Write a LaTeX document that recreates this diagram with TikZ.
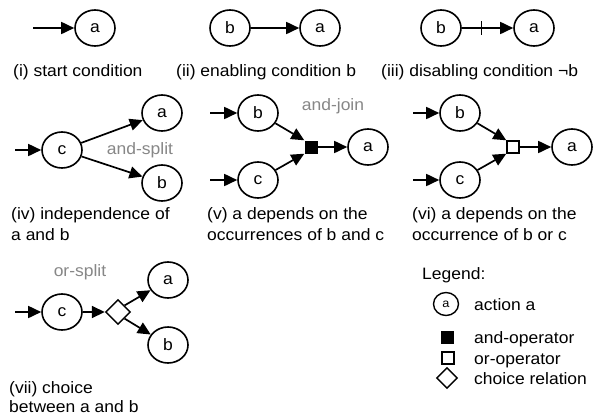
\documentclass[tikz,border=0pt]{standalone}
\usepackage{fontspec}
\setmainfont{Liberation Sans}[FakeStretch=1.06]
\usetikzlibrary{arrows.meta,shapes.geometric,calc}
\definecolor{lblgray}{RGB}{135,135,135}
\tikzset{
  act/.style={ellipse,draw,line width=1.6pt,minimum width=40pt,minimum height=36pt,inner sep=0pt},
  smallact/.style={ellipse,draw,line width=1.4pt,minimum width=25pt,minimum height=23pt,inner sep=0pt,font=\fontsize{12}{14}\selectfont},
  arr/.style={-{Triangle[length=13pt,width=12pt]},line width=1.7pt},
  captxt/.style={anchor=base west,inner sep=0pt},
  oplbl/.style={text=lblgray,inner sep=0pt},
  andop/.style={rectangle,fill=black,minimum size=13pt,inner sep=0pt},
  orop/.style={rectangle,draw,line width=1.4pt,fill=white,minimum size=12pt,inner sep=0pt},
  choiceop/.style={diamond,draw,line width=1.4pt,fill=white,minimum width=25pt,minimum height=25pt,inner sep=0pt},
}
\begin{document}
\begin{tikzpicture}[x=1pt,y=-1pt,font=\fontsize{16.5}{21}\selectfont]
\useasboundingbox[fill=white] (0,0) rectangle (597,416);
% (i)
\coordinate (s1) at (33,28);
\node[act] (a1) at (95,28) {a};
\draw[arr] (s1) -- (a1);
\node[captxt] (c1) at (13,76) {(i) start condition};
% (ii)
\node[act] (b2) at (230,28) {b};
\node[act] (a2) at (320,28) {a};
\draw[arr] (b2) -- (a2);
\node[captxt] (c2) at (176,76) {(ii) enabling condition b};
% (iii)
\node[act] (b3) at (441,28) {b};
\node[act] (a3) at (534,28) {a};
\draw[arr] (b3) -- (a3);
\coordinate (t3) at ($(b3.east)!0.38!(a3.west)$);
\draw[line width=1.5pt] (t3) ++(0,-7) -- ++(0,14);
\node[captxt] (c3) at (381,76) {(iii) disabling condition ¬b};
% (iv)
\coordinate (s4) at (15,150);
\node[act] (c4) at (62,150) {c};
\node[act] (a4) at (162,113) {a};
\node[act] (b4) at (162,183) {b};
\draw[arr] (s4) -- (c4);
\draw[arr] (c4) -- (a4);
\draw[arr] (c4) -- (b4);
\node[oplbl] (l4) at (140,150) {and-split};
\node[captxt] (c4a) at (11,219) {(iv) independence of};
\node[captxt] (c4b) at (11,240) {a and b};
% (v)
\coordinate (s5b) at (210,113);
\coordinate (s5c) at (210,180);
\node[act] (b5) at (258,113) {b};
\node[act] (c5) at (258,180) {c};
\node[andop] (q5) at (311,147) {};
\node[act] (a5) at (368,147) {a};
\draw[arr] (s5b) -- (b5);
\draw[arr] (s5c) -- (c5);
\draw[arr] (b5) -- (q5.north west);
\draw[arr] (c5) -- (q5.south west);
\draw[arr] (q5) -- (a5);
\node[oplbl] (l5) at (333,106) {and-join};
\node[captxt] (c5a) at (207,219) {(v) a depends on the};
\node[captxt] (c5b) at (207,240) {occurrences of b and c};
% (vi)
\coordinate (s6b) at (413,113);
\coordinate (s6c) at (413,180);
\node[act] (b6) at (460,113) {b};
\node[act] (c6) at (460,180) {c};
\node[orop] (q6) at (513,147) {};
\node[act] (a6) at (572,147) {a};
\draw[arr] (s6b) -- (b6);
\draw[arr] (s6c) -- (c6);
\draw[arr] (b6) -- (q6.north west);
\draw[arr] (c6) -- (q6.south west);
\draw[arr] (q6) -- (a6);
\node[captxt] (c6a) at (412,219) {(vi) a depends on the};
\node[captxt] (c6b) at (412,240) {occurrence of b or c};
% (vii)
\coordinate (s7) at (15,312);
\node[act] (c7) at (62,312) {c};
\node[choiceop] (d7) at (118,312) {};
\node[act] (a7) at (168,280) {a};
\node[act] (b7) at (168,345) {b};
\draw[arr] (s7) -- (c7);
\draw[arr] (c7) -- (d7);
\draw[arr] (d7.north east) -- (a7);
\draw[arr] (d7.south east) -- (b7);
\node[oplbl] (l7) at (80,272) {or-split};
\node[captxt] (c7a) at (9,393) {(vii) choice};
\node[captxt] (c7b) at (9,412) {between a and b};
% legend
\node[captxt] (lg) at (422,279) {Legend:};
\node[smallact] (lga) at (446,304) {a};
\node[captxt] (lgat) at (474,310) {action a};
\node[andop] (lgand) at (447,337) {};
\node[captxt] (lgandt) at (474,343) {and-operator};
\node[orop] (lgor) at (448,358) {};
\node[captxt] (lgort) at (474,364) {or-operator};
\node[choiceop,minimum width=21pt,minimum height=21pt] (lgch) at (447,378) {};
\node[captxt] (lgcht) at (474,384) {choice relation};
\end{tikzpicture}
\end{document}
